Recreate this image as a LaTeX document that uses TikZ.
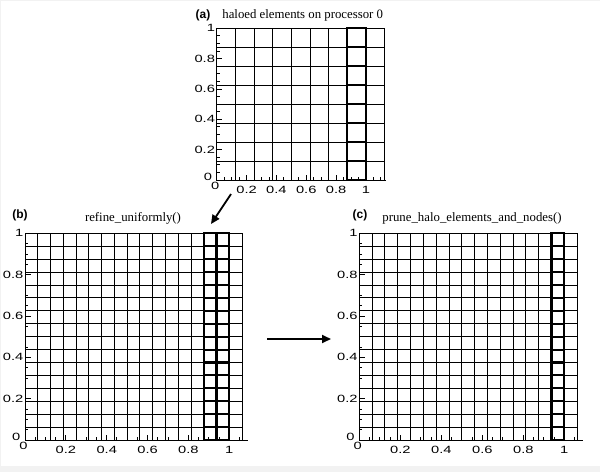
\documentclass[tikz,border=0pt]{standalone}
\usepackage{graphicx}
\usepackage{fontspec}
\setmainfont{Liberation Serif}
\newfontfamily\lsans{Liberation Sans}
\usetikzlibrary{arrows.meta}
\newcommand\widelab[1]{\scalebox{1.4}[1]{#1}}
\tikzset{
  gridl/.style={line width=0.9pt, black},
  cell/.style={line width=2.1pt, black},
  axisl/.style={line width=0.9pt, black},
  ticklab/.style={inner sep=0pt, font=\lsans\fontsize{10.5}{12}\selectfont},
  titletext/.style={inner sep=0pt, font=\fontsize{12.8}{15}\selectfont},
  panellab/.style={inner sep=0pt, font=\lsans\bfseries\fontsize{12}{14}\selectfont},
  bigarrow/.style={line width=1.8pt, -{Triangle[length=9pt,width=8pt]}}
}
% #1 prefix, #2 Ox, #3 Oy, #4 ux, #5 uy, #6 ncols, #7 nrows, #8 h, #9 axis end
\newcommand\meshplot[9]{%
\begin{scope}[shift={(#2,#3)}, x=#4pt, y=#5pt]
  \foreach \i in {0,...,#6} \draw[gridl] ({\i*#8},0) -- ({\i*#8},1);
  \foreach \j in {0,...,#7} \draw[gridl] (0,{\j*#8}) -- ({#6*#8},{\j*#8});
  \foreach \c in \thickcols {
    \foreach \j in {1,...,#7}
      \draw[cell] ({\c*#8},{(\j-1)*#8}) rectangle ({(\c+1)*#8},{\j*#8});
  }
  \draw[axisl] (0,1) -- (0,0) -- (#9,0);
  \pgfmathtruncatemacro\nx{floor(#9/0.05+0.001)}
  \foreach \k in {1,...,\nx} \draw[axisl] ({\k*0.05},0) -- ++(0pt,3pt);
  \foreach \k in {1,...,20} \draw[axisl] (0,{\k*0.05}) -- ++(3pt,0pt);
  \foreach \v [count=\n] in {0.2,0.4,0.6,0.8,1} {
    \draw[axisl] (\v,0) -- ++(0pt,5.5pt);
    \draw[axisl] (0,\v) -- ++(5.5pt,0pt);
    \node[ticklab, anchor=north, yshift=-6pt] (#1x\n) at (\v,0) {\widelab{\v}};
    \node[ticklab, anchor=east, xshift=-1.5pt] (#1y\n) at (0,\v) {\widelab{\v}};
  }
  \node[ticklab, anchor=north, xshift=-1.5pt, yshift=-1.5pt] (#1x0) at (0,0) {\widelab{0}};
  \node[ticklab, anchor=south east, xshift=-4.5pt, yshift=-0.5pt] (#1y0) at (0,0) {\widelab{0}};
\end{scope}}
\begin{document}
\begin{tikzpicture}[x=1pt, y=-1pt]
  \useasboundingbox (0,0) rectangle (600,472);
  \fill[black!5] (0,0) rectangle (600,472);
  \fill[white] (1,1) rectangle (600,466);

  \def\thickcols{7}
  \meshplot{a}{216.7}{180}{149.3}{151.7}{9}{8}{0.125}{1.135}
  \def\thickcols{14,15}
  \meshplot{b}{25}{440}{204.3}{206.7}{17}{16}{0.0625}{1.09}
  \def\thickcols{15}
  \meshplot{c}{359.3}{440}{205}{206.7}{17}{16}{0.0625}{1.09}

  \node[panellab] (pa) at (203,15) {(a)};
  \node[titletext] (ta) at (302.7,15) {haloed elements on processor 0};
  \node[panellab] (pb) at (20,215) {(b)};
  \node[titletext] (tb) at (133,218) {refine\_uniformly()};
  \node[panellab] (pc) at (360,215) {(c)};
  \node[titletext] (tc) at (472,218) {prune\_halo\_elements\_and\_nodes()};

  \coordinate (a1s) at (231,194);
  \coordinate (a1e) at (211,224);
  \draw[bigarrow] (a1s) -- (a1e);
  \coordinate (a2s) at (267,339);
  \coordinate (a2e) at (331,339);
  \draw[bigarrow] (a2s) -- (a2e);
\end{tikzpicture}
\end{document}
